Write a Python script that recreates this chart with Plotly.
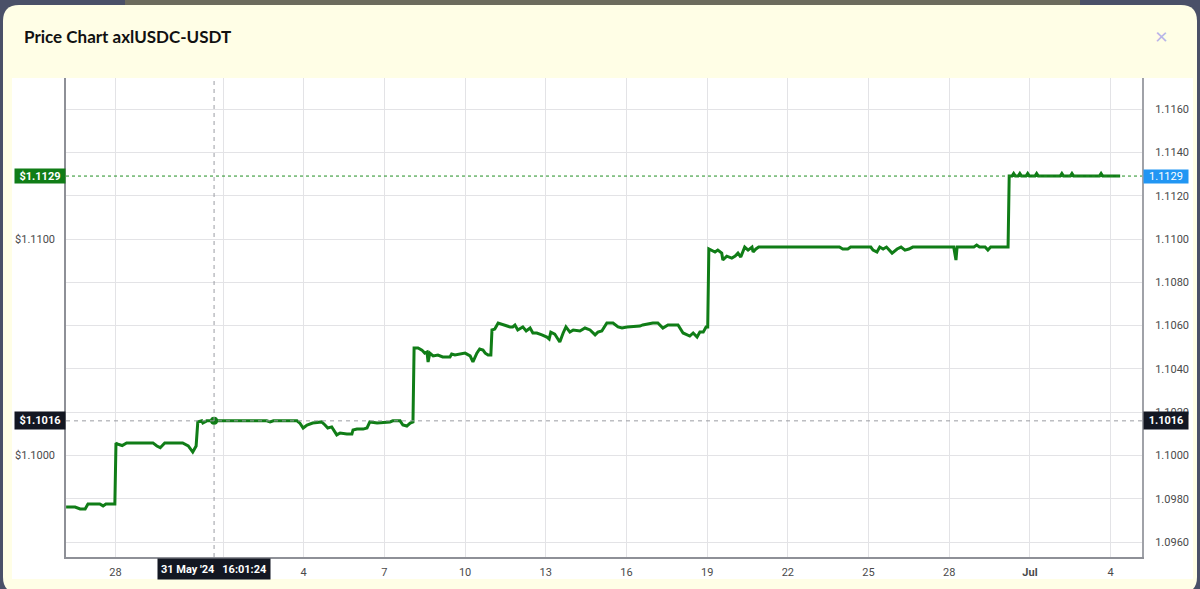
import plotly.graph_objects as go

# ---------------- data ----------------
title_text = "Price Chart axlUSDC-USDT"

times = [
    "2024-05-26 04:00", "2024-05-26 12:00", "2024-05-26 16:30", "2024-05-26 21:00", "2024-05-26 23:30",
    "2024-05-27 10:00", "2024-05-27 13:00", "2024-05-27 15:30", "2024-05-27 23:30",
    "2024-05-28 00:30", "2024-05-28 01:30", "2024-05-28 06:00", "2024-05-28 10:00", "2024-05-29 09:30",
    "2024-05-29 13:00", "2024-05-29 16:00", "2024-05-29 20:00", "2024-05-30 12:00", "2024-05-30 17:00",
    "2024-05-30 21:00", "2024-05-31 00:00",
    "2024-05-31 01:30", "2024-05-31 05:00", "2024-05-31 06:00", "2024-05-31 09:30", "2024-05-31 16:01:24",
    "2024-06-02 15:00", "2024-06-02 18:00", "2024-06-02 21:00", "2024-06-03 18:00", "2024-06-03 20:30",
    "2024-06-03 23:30", "2024-06-04 03:00", "2024-06-04 08:00", "2024-06-04 16:00", "2024-06-04 19:00",
    "2024-06-04 21:30", "2024-06-05 01:00", "2024-06-05 05:30", "2024-06-05 08:30", "2024-06-05 14:30",
    "2024-06-05 19:00", "2024-06-05 20:00", "2024-06-05 23:30", "2024-06-06 05:00", "2024-06-06 08:30",
    "2024-06-06 11:00", "2024-06-06 17:30", "2024-06-07 05:00", "2024-06-07 07:30", "2024-06-07 14:00",
    "2024-06-07 16:30", "2024-06-07 20:00", "2024-06-07 23:00", "2024-06-08 01:30",
    "2024-06-08 02:30", "2024-06-08 06:00", "2024-06-08 09:30", "2024-06-08 12:00", "2024-06-08 14:00",
    "2024-06-08 15:00", "2024-06-08 16:30", "2024-06-08 19:30", "2024-06-08 23:45", "2024-06-09 04:00",
    "2024-06-09 10:30", "2024-06-09 12:00", "2024-06-09 15:00", "2024-06-10 00:00", "2024-06-10 04:30",
    "2024-06-10 07:00", "2024-06-10 10:30", "2024-06-10 13:00", "2024-06-10 16:00", "2024-06-10 18:00",
    "2024-06-10 20:30", "2024-06-10 23:00",
    "2024-06-11 00:00", "2024-06-11 02:30", "2024-06-11 05:30", "2024-06-11 10:00", "2024-06-11 16:00",
    "2024-06-11 18:30", "2024-06-11 20:30", "2024-06-11 23:00", "2024-06-12 03:30", "2024-06-12 06:30",
    "2024-06-12 10:00", "2024-06-12 12:30", "2024-06-12 16:00", "2024-06-12 20:30", "2024-06-13 01:00",
    "2024-06-13 03:00", "2024-06-13 04:30", "2024-06-13 08:00", "2024-06-13 12:30", "2024-06-13 15:30",
    "2024-06-13 18:00", "2024-06-13 21:30", "2024-06-14 00:30", "2024-06-14 06:30", "2024-06-14 11:00",
    "2024-06-14 15:30", "2024-06-14 20:00", "2024-06-14 22:30", "2024-06-15 02:00", "2024-06-15 06:30",
    "2024-06-15 12:00", "2024-06-15 16:30", "2024-06-15 20:00", "2024-06-16 00:30", "2024-06-16 12:00",
    "2024-06-16 14:30", "2024-06-16 19:00", "2024-06-16 23:30", "2024-06-17 04:00", "2024-06-17 08:30",
    "2024-06-17 13:00", "2024-06-17 22:00", "2024-06-18 02:30", "2024-06-18 06:00", "2024-06-18 08:30",
    "2024-06-18 11:30", "2024-06-18 15:00", "2024-06-18 17:30", "2024-06-18 20:30", "2024-06-18 23:00",
    "2024-06-19 00:30",
    "2024-06-19 01:30", "2024-06-19 07:00", "2024-06-19 09:30", "2024-06-19 13:00", "2024-06-19 14:00",
    "2024-06-19 17:30", "2024-06-19 22:00", "2024-06-20 01:00", "2024-06-20 03:30", "2024-06-20 06:00",
    "2024-06-20 09:30", "2024-06-20 12:30", "2024-06-20 16:00", "2024-06-20 17:00", "2024-06-20 19:30",
    "2024-06-20 22:00", "2024-06-23 22:00", "2024-06-24 01:00", "2024-06-24 05:30", "2024-06-24 08:00",
    "2024-06-25 02:00", "2024-06-25 04:00", "2024-06-25 07:30", "2024-06-25 10:00", "2024-06-25 13:00",
    "2024-06-25 16:00", "2024-06-25 21:00", "2024-06-26 01:30", "2024-06-26 05:00", "2024-06-26 08:30",
    "2024-06-26 12:00", "2024-06-26 15:30", "2024-06-28 04:00", "2024-06-28 06:00", "2024-06-28 07:00",
    "2024-06-28 22:00", "2024-06-29 00:30", "2024-06-29 03:00", "2024-06-29 08:00", "2024-06-29 10:30",
    "2024-06-29 13:00", "2024-06-30 04:30",
    "2024-06-30 05:30", "2024-06-30 08:00", "2024-06-30 09:30", "2024-06-30 11:00", "2024-06-30 13:30",
    "2024-06-30 15:00", "2024-06-30 16:30", "2024-06-30 20:30", "2024-06-30 22:00", "2024-06-30 23:30",
    "2024-07-01 04:30", "2024-07-01 06:00", "2024-07-01 07:30", "2024-07-02 03:00", "2024-07-02 04:30",
    "2024-07-02 06:00", "2024-07-02 12:00", "2024-07-02 13:30", "2024-07-02 15:00", "2024-07-03 14:00",
    "2024-07-03 15:30", "2024-07-03 17:00", "2024-07-04 08:30",
]

prices = [
    1.09762, 1.09762, 1.09753, 1.09753, 1.09776,
    1.09776, 1.09767, 1.09776, 1.09776,
    1.10058, 1.10053, 1.10046, 1.10058, 1.10058,
    1.10044, 1.10036, 1.10058, 1.10058, 1.10044,
    1.10016, 1.10044,
    1.10155, 1.10160, 1.10150, 1.10160, 1.10160,
    1.10160, 1.10155, 1.10160, 1.10160, 1.10150,
    1.10127, 1.10141, 1.10150, 1.10155, 1.10141,
    1.10127, 1.10132, 1.10095, 1.10104, 1.10099,
    1.10099, 1.10118, 1.10122, 1.10122, 1.10127,
    1.10155, 1.10150, 1.10155, 1.10160, 1.10160,
    1.10141, 1.10136, 1.10150, 1.10155,
    1.10497, 1.10497, 1.10487, 1.10473, 1.10478,
    1.10432, 1.10473, 1.10460, 1.10464, 1.10455,
    1.10455, 1.10469, 1.10464, 1.10473, 1.10460,
    1.10432, 1.10473, 1.10492, 1.10487, 1.10473,
    1.10464, 1.10464,
    1.10580, 1.10584, 1.10612, 1.10603, 1.10594,
    1.10594, 1.10603, 1.10580, 1.10594, 1.10575,
    1.10589, 1.10566, 1.10566, 1.10557, 1.10547,
    1.10538, 1.10570, 1.10561, 1.10524, 1.10566,
    1.10594, 1.10570, 1.10580, 1.10575, 1.10589,
    1.10580, 1.10557, 1.10570, 1.10575, 1.10612,
    1.10612, 1.10594, 1.10589, 1.10594, 1.10598,
    1.10603, 1.10607, 1.10612, 1.10612, 1.10589,
    1.10603, 1.10603, 1.10566, 1.10557, 1.10552,
    1.10566, 1.10547, 1.10570, 1.10570, 1.10594,
    1.10594,
    1.10954, 1.10940, 1.10949, 1.10935, 1.10903,
    1.10921, 1.10912, 1.10921, 1.10935, 1.10917,
    1.10963, 1.10949, 1.10963, 1.10940, 1.10954,
    1.10963, 1.10963, 1.10954, 1.10954, 1.10963,
    1.10963, 1.10949, 1.10940, 1.10963, 1.10954,
    1.10963, 1.10935, 1.10954, 1.10963, 1.10949,
    1.10954, 1.10963, 1.10963, 1.10903, 1.10963,
    1.10963, 1.10972, 1.10963, 1.10963, 1.10949,
    1.10963, 1.10963,
    1.11291, 1.11291, 1.11303, 1.11291, 1.11291,
    1.11303, 1.11291, 1.11291, 1.11303, 1.11291,
    1.11291, 1.11303, 1.11291, 1.11291, 1.11303,
    1.11291, 1.11291, 1.11303, 1.11291, 1.11291,
    1.11303, 1.11291, 1.11291,
]

xtick_vals = ["2024-05-28", "2024-06-01", "2024-06-04", "2024-06-07", "2024-06-10", "2024-06-13",
              "2024-06-16", "2024-06-19", "2024-06-22", "2024-06-25", "2024-06-28", "2024-07-01",
              "2024-07-04"]
xtick_text = ["28", "", "4", "7", "10", "13", "16", "19", "22", "25", "28", "<b>Jul</b>", "4"]
right_tick_vals = [1.096, 1.098, 1.100, 1.102, 1.104, 1.106, 1.108, 1.110, 1.112, 1.114, 1.116]
left_tick_vals = [1.100, 1.110]
left_tick_text = ["$1.1000", "$1.1100"]
x_range = ["2024-05-26 03:54", "2024-07-05 04:00"]
y_range = [1.09531, 1.11744]
crosshair_time = "2024-05-31 16:01:24"
crosshair_price = 1.1016
crosshair_time_label = "31 May '24\u2002\u200916:01:24"

# ---------------- style / geometry ----------------
W, H = 1200, 589
L, R, T, B = 66, 58, 78, 32
PW, PH = W - L - R, H - T - B
GREEN = "#107d17"
NAVY = "#4a5068"
YELLOW = "#fffee6"
FONT = "Roboto"


def px(x):
    return (x - L) / PW


def py(y):
    return (H - B - y) / PH


def rounded_rect(x0, y0, x1, y1, r):
    pts = []
    pts.append(f"M {px(x0 + r)},{py(y0)}")
    pts.append(f"L {px(x1 - r)},{py(y0)}")
    pts.append(f"Q {px(x1)},{py(y0)} {px(x1)},{py(y0 + r)}")
    pts.append(f"L {px(x1)},{py(y1 - r)}")
    pts.append(f"Q {px(x1)},{py(y1)} {px(x1 - r)},{py(y1)}")
    pts.append(f"L {px(x0 + r)},{py(y1)}")
    pts.append(f"Q {px(x0)},{py(y1)} {px(x0)},{py(y1 - r)}")
    pts.append(f"L {px(x0)},{py(y0 + r)}")
    pts.append(f"Q {px(x0)},{py(y0)} {px(x0 + r)},{py(y0)} Z")
    return " ".join(pts)


last_price = prices[-1]

fig = go.Figure()
fig.add_trace(go.Scatter(
    x=times, y=prices, mode="lines", yaxis="y",
    line=dict(color=GREEN, width=3, shape="linear"),
    hoverinfo="skip", showlegend=False,
))
fig.add_trace(go.Scatter(
    x=[crosshair_time], y=[crosshair_price], mode="markers", yaxis="y",
    marker=dict(color=GREEN, size=8), hoverinfo="skip", showlegend=False,
))
# carrier for the left price scale
fig.add_trace(go.Scatter(
    x=[crosshair_time], y=[crosshair_price], mode="markers", yaxis="y2",
    marker=dict(opacity=0), hoverinfo="skip", showlegend=False,
))

shapes = [
    dict(type="rect", xref="paper", yref="paper", x0=px(125), x1=px(1080), y0=py(0), y1=py(8),
         fillcolor="#6c6b5d", line=dict(width=0), layer="below"),
    dict(type="path", xref="paper", yref="paper", path=rounded_rect(3, 5, 1197, 593, 16),
         fillcolor=YELLOW, line=dict(width=0), layer="below"),
    dict(type="rect", xref="paper", yref="paper", x0=px(12), x1=px(1193), y0=py(579), y1=py(78),
         fillcolor="white", line=dict(width=0), layer="below"),
    # last price dotted line
    dict(type="line", xref="paper", yref="y", x0=0, x1=1, y0=last_price, y1=last_price,
         line=dict(color="#1f8f22", width=1, dash="dot")),
    # crosshair
    dict(type="line", xref="paper", yref="y", x0=0, x1=1, y0=crosshair_price, y1=crosshair_price,
         line=dict(color="#9a9ca3", width=1, dash="4px,4px")),
    dict(type="line", xref="x", yref="paper", x0=crosshair_time, x1=crosshair_time, y0=0, y1=1,
         line=dict(color="#9a9ca3", width=1, dash="4px,4px")),
]

annotations = [
    dict(xref="paper", yref="paper", x=px(22), y=py(36), xanchor="left", yanchor="middle",
         text=f"<b>{title_text}</b>", showarrow=False,
         font=dict(family="Lato", size=17, color="#111111")),
    dict(xref="paper", yref="paper", x=px(1161), y=py(35), xanchor="center", yanchor="middle",
         text="\u00d7", showarrow=False, font=dict(family="Lato", size=22, color="#b7b4e8")),
    # left labels
    dict(xref="paper", yref="y", x=0, y=last_price, xanchor="right", yanchor="middle",
         text=f"<b>${last_price:.4f}</b>", showarrow=False, bgcolor=GREEN, borderpad=1,
         width=48, height=12, font=dict(family=FONT, size=11, color="white")),
    dict(xref="paper", yref="y", x=0, y=crosshair_price, xanchor="right", yanchor="middle",
         text=f"<b>${crosshair_price:.4f}</b>", showarrow=False, bgcolor="#131722", borderpad=2,
         width=46, height=13, font=dict(family=FONT, size=11, color="white")),
    # right labels
    dict(xref="paper", yref="y", x=1, y=last_price, xanchor="left", yanchor="middle", xshift=1,
         text=f"{last_price:.4f}", showarrow=False, bgcolor="#2196f3", borderpad=1,
         width=42, height=11, font=dict(family=FONT, size=11, color="white")),
    dict(xref="paper", yref="y", x=1, y=crosshair_price, xanchor="left", yanchor="middle", xshift=1,
         text=f"<b>{crosshair_price:.4f}</b>", showarrow=False, bgcolor="#131722", borderpad=2,
         width=40, height=13, font=dict(family=FONT, size=11, color="white")),
    # time label
    dict(xref="x", yref="paper", x=crosshair_time, y=0, xanchor="center", yanchor="top", yshift=-1,
         text=f"<b>{crosshair_time_label}</b>", showarrow=False, bgcolor="#131722", borderpad=2,
         width=108, height=16, font=dict(family=FONT, size=11, color="white")),
]

axis_font = dict(family=FONT, size=11, color="#4a4a4a")

fig.update_layout(
    width=W, height=H,
    margin=dict(l=L, r=R, t=T, b=B, pad=0, autoexpand=False),
    paper_bgcolor=NAVY, plot_bgcolor="white",
    showlegend=False, hovermode=False,
    xaxis=dict(
        type="date", range=x_range, tickvals=xtick_vals, ticktext=xtick_text,
        showgrid=True, gridcolor="#e3e3e6", gridwidth=1, zeroline=False,
        showline=True, linecolor="#8e9097", linewidth=1.5,
        ticks="", tickfont=axis_font, ticklabelstandoff=4, fixedrange=True,
    ),
    yaxis=dict(
        side="right", range=y_range, tickvals=right_tick_vals, tickformat=".4f",
        showgrid=True, gridcolor="#e3e3e6", gridwidth=1, zeroline=False,
        showline=True, linecolor="#a0a2a8", linewidth=2,
        ticks="", tickfont=axis_font, ticklabelstandoff=9, fixedrange=True,
    ),
    yaxis2=dict(
        side="left", overlaying="y", range=y_range, tickvals=left_tick_vals,
        ticktext=left_tick_text, showgrid=False, zeroline=False,
        showline=True, linecolor="#8e9097", linewidth=1.5,
        ticks="", tickfont=axis_font, ticklabelstandoff=7, fixedrange=True,
    ),
    shapes=shapes,
    annotations=annotations,
)

fig.write_html(
    "out.html",
    config={"displayModeBar": False},
    post_script="document.body.style.margin='0';document.body.style.overflow='hidden';",
)
